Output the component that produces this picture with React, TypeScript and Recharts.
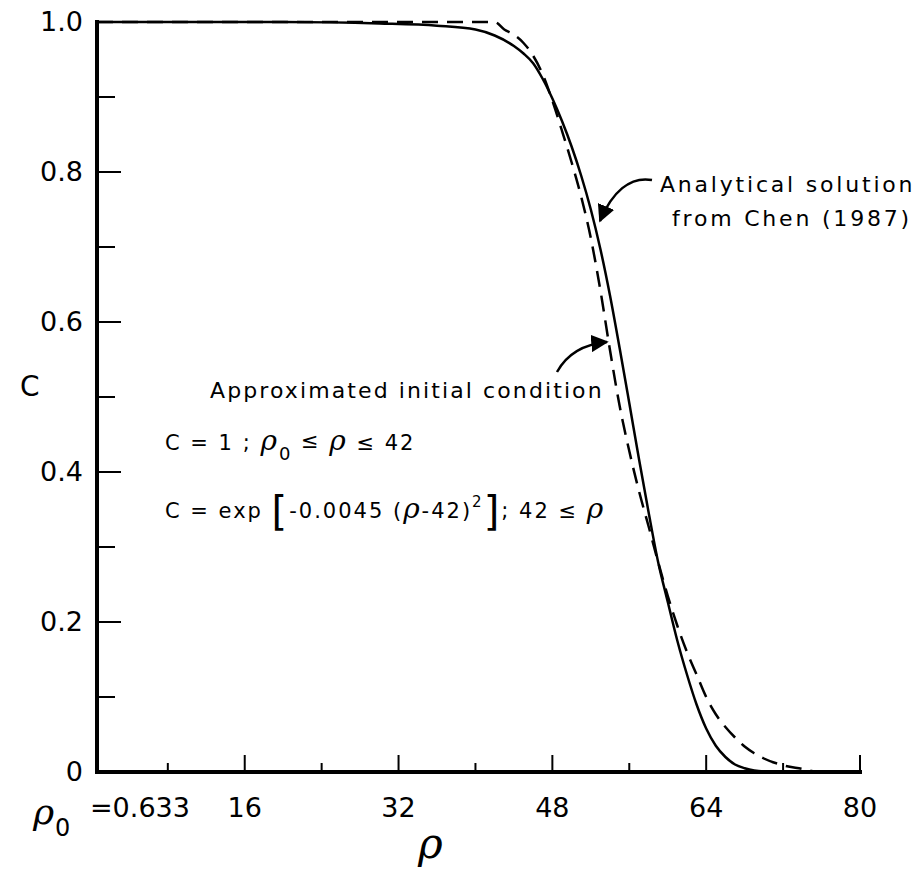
import { LineChart, Line, XAxis, YAxis } from 'recharts';

const W = 915;
const H = 869;
const RHO0 = 0.633;

// Analytical solution from Chen (1987)
const chenRho = [0.633, 10, 20, 30, 36, 40, 42, 44, 45, 46, 47, 48, 49, 50, 51, 52, 53, 54, 55, 56, 57, 58, 59, 60, 61, 62, 63, 64, 65, 66, 67, 68, 69, 71];
const chenC = [1.0, 1.0, 1.0, 0.998, 0.995, 0.99, 0.982, 0.968, 0.958, 0.945, 0.924, 0.898, 0.868, 0.834, 0.795, 0.75, 0.697, 0.635, 0.565, 0.492, 0.418, 0.347, 0.28, 0.227, 0.175, 0.13, 0.09, 0.058, 0.035, 0.02, 0.01, 0.005, 0.002, 0];

// Approximated initial condition
const approxRho = [0.633, 42, 43, 44, 45, 46, 47, 48, 49, 50, 51, 52, 53, 54, 55, 56, 57, 58, 59, 60, 61, 62, 63, 64, 65, 66, 67, 68, 69, 70, 72, 74, 75.5];
const approxC = [1, 1, 0.99, 0.983, 0.972, 0.955, 0.93, 0.895, 0.855, 0.813, 0.767, 0.712, 0.642, 0.562, 0.488, 0.428, 0.375, 0.328, 0.28, 0.235, 0.195, 0.16, 0.13, 0.1, 0.077, 0.06, 0.046, 0.034, 0.025, 0.018, 0.009, 0.004, 0];

const xTicks = [0.633, 8, 16, 24, 32, 40, 48, 56, 64, 72, 80];
const xLabelled = [16, 32, 48, 64, 80];
const yTicks = [0, 0.1, 0.2, 0.3, 0.4, 0.5, 0.6, 0.7, 0.8, 0.9, 1.0];
const yLabels = ['0', '', '0.2', '', '0.4', '', '0.6', '', '0.8', '', '1.0'];

const chen = chenRho.map((rho, i) => ({ rho, c: chenC[i] }));
const approx = approxRho.map((rho, i) => ({ rho, c: approxC[i] }));

const RHO_FONT = 'DejaVu Serif';

function RhoTick({ x, y, payload }: any) {
  const v = payload.value;
  if (v === RHO0) {
    return (
      <g>
        <text x={x - 64} y={y + 52} fontSize={36} fontStyle="italic" fontFamily={RHO_FONT}>ρ</text>
        <text x={x - 42} y={y + 64} fontSize={24}>0</text>
        <text x={x - 7} y={y + 45} fontSize={27}>=0.633</text>
      </g>
    );
  }
  const labelled = xLabelled.includes(v);
  return (
    <g>
      <line x1={x} x2={x} y1={y} y2={y - (labelled ? 17 : 9)} stroke="#000" strokeWidth={2} />
      {labelled && (
        <text x={x} y={y + 45} textAnchor="middle" fontSize={27}>{v}</text>
      )}
    </g>
  );
}

function CTick({ x, y, payload, index }: any) {
  const label = yLabels[index];
  const v = payload.value;
  const len = v === 0 || v === 1 ? 0 : label ? 24 : 18;
  return (
    <g>
      {len > 0 && <line x1={x} x2={x + len} y1={y} y2={y} stroke="#000" strokeWidth={2} />}
      {label && (
        <text x={x - 14} y={y + 9} textAnchor="end" fontSize={27}>{label}</text>
      )}
    </g>
  );
}

export default function App() {
  return (
    <div
      style={{
        position: 'absolute',
        left: 0,
        top: 0,
        width: W,
        height: H,
        background: '#fff',
        fontFamily: 'DejaVu Sans',
        color: '#000',
      }}
    >
      <LineChart width={W} height={H} margin={{ top: 22, right: 55, bottom: 0, left: 0 }}>
        <XAxis
          type="number"
          dataKey="rho"
          domain={[RHO0, 80]}
          allowDataOverflow
          ticks={xTicks}
          interval={0}
          tickSize={0}
          tickMargin={0}
          tickLine={false}
          tick={<RhoTick />}
          height={97}
          axisLine={{ stroke: '#000', strokeWidth: 4, strokeLinecap: 'square' }}
        />
        <YAxis
          type="number"
          domain={[0, 1]}
          ticks={yTicks}
          interval={0}
          tickSize={0}
          tickMargin={0}
          tickLine={false}
          tick={<CTick />}
          width={97}
          axisLine={{ stroke: '#000', strokeWidth: 4, strokeLinecap: 'square' }}
        />
        <Line
          data={approx}
          dataKey="c"
          type="monotone"
          stroke="#000"
          strokeWidth={2.5}
          strokeDasharray="16 9"
          dot={false}
          isAnimationActive={false}
        />
        <Line
          data={chen}
          dataKey="c"
          type="monotone"
          stroke="#000"
          strokeWidth={2.5}
          dot={false}
          isAnimationActive={false}
        />
      </LineChart>

      <svg
        width={W}
        height={H}
        style={{ position: 'absolute', left: 0, top: 0, pointerEvents: 'none' }}
      >
        <defs>
          <marker id="head" viewBox="0 0 10 10" refX="9" refY="5" markerWidth="7" markerHeight="7" orient="auto">
            <path d="M0,0 L10,5 L0,10 z" fill="#000" />
          </marker>
        </defs>

        <text x={20} y={396} fontSize={28}>C</text>
        <text x={418} y={858} fontSize={42} fontStyle="italic" fontFamily={RHO_FONT}>ρ</text>

        <g fontSize={22}>
          <text x={660} y={192} letterSpacing={2.8}>Analytical solution</text>
          <text x={672} y={226} letterSpacing={2.8}>from Chen (1987)</text>
          <text x={210} y={398} letterSpacing={2.1}>Approximated initial condition</text>
        </g>

        <g fontSize={21} letterSpacing={2}>
          <text x={165} y={450}>
            <tspan>C = 1 ;  </tspan>
            <tspan fontSize={28} fontStyle="italic" fontFamily={RHO_FONT}>ρ</tspan>
            <tspan fontSize={18} dy={10}>0</tspan>
            <tspan dy={-12}> ≤ </tspan>
            <tspan fontSize={28} fontStyle="italic" fontFamily={RHO_FONT} dy={2}>ρ</tspan>
            <tspan> ≤ 42</tspan>
          </text>

          <text x={165} y={518}>
            <tspan>C = exp </tspan>
            <tspan fontSize={40} dy={7}>[</tspan>
            <tspan dy={-7}>-0.0045 (</tspan>
            <tspan fontSize={28} fontStyle="italic" fontFamily={RHO_FONT}>ρ</tspan>
            <tspan>-42)</tspan>
            <tspan fontSize={15} dy={-11}>2</tspan>
            <tspan fontSize={40} dy={18}>]</tspan>
            <tspan dy={-7}>; 42 ≤ </tspan>
            <tspan fontSize={28} fontStyle="italic" fontFamily={RHO_FONT}>ρ</tspan>
          </text>
        </g>

        <path d="M652,180 C630,176 612,192 600,221" fill="none" stroke="#000" strokeWidth={2.5} markerEnd="url(#head)" />
        <path d="M557,372 C568,352 585,344 607,342" fill="none" stroke="#000" strokeWidth={2.5} markerEnd="url(#head)" />
      </svg>
    </div>
  );
}
